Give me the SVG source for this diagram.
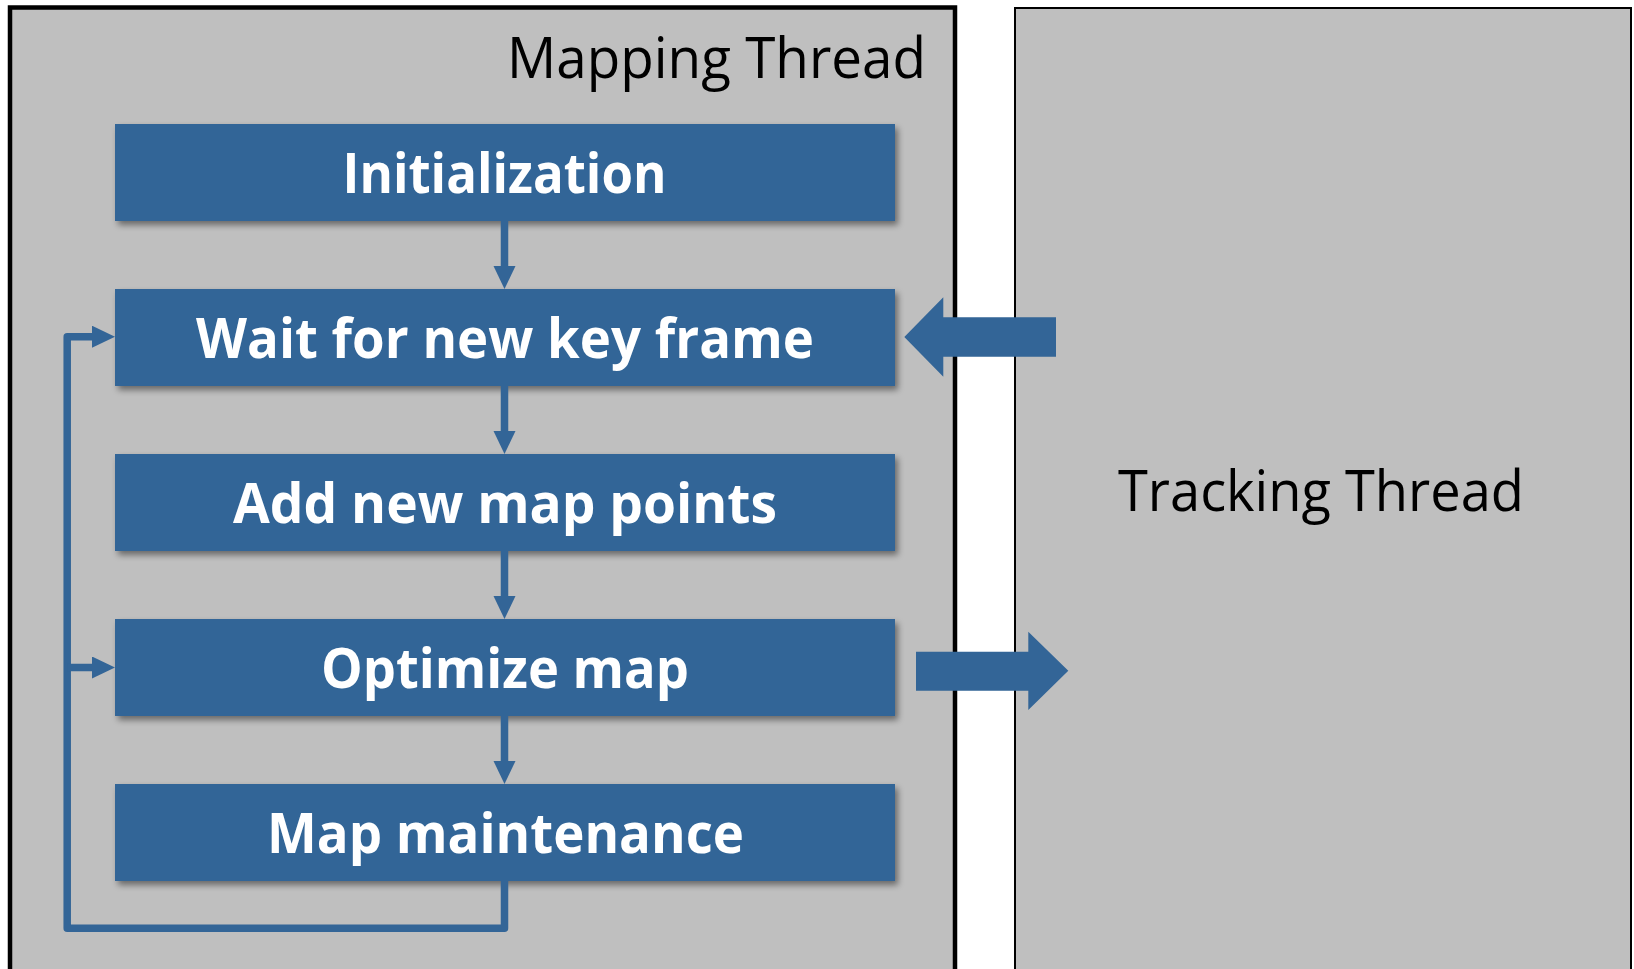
<svg xmlns="http://www.w3.org/2000/svg" width="1634" height="969" viewBox="0 0 1634 969">
  <style>
    .panel { fill: #BFBFBF; stroke: #000000; }
    .box { fill: #336597; filter: url(#shadow); }
    .label { font-family: "Open Sans", "Liberation Sans", sans-serif; font-weight: bold; font-size: 55px; fill: #FFFFFF; }
    .title { font-family: "Open Sans", "Liberation Sans", sans-serif; font-size: 57px; fill: #000000; }
    .conn { fill: none; stroke: #336597; stroke-width: 7.5; stroke-linejoin: round; }
    .block { fill: #336597; }
  </style>
  <defs>
    <filter id="shadow" x="-5%" y="-10%" width="115%" height="130%">
      <feDropShadow dx="3" dy="4" stdDeviation="3" flood-color="#000000" flood-opacity="0.45"/>
    </filter>
    <marker id="head" markerUnits="userSpaceOnUse" markerWidth="24" markerHeight="24" refX="13" refY="11" orient="auto">
      <path d="M0,0 L23,11 L0,22 Z" fill="#336597"/>
    </marker>
  </defs>
  <rect x="0" y="0" width="1634" height="969" fill="#FFFFFF"/>

  <g id="mapping-thread">
    <rect class="panel" x="10" y="7.5" width="945" height="1000" stroke-width="4.5"/>
    <text class="title" x="507" y="78" textLength="419" lengthAdjust="spacingAndGlyphs">Mapping Thread</text>
  </g>

  <g id="tracking-thread">
    <rect class="panel" x="1015" y="8" width="616" height="1000" stroke-width="2"/>
    <text class="title" x="1118" y="511" textLength="406" lengthAdjust="spacingAndGlyphs">Tracking Thread</text>
  </g>

  <g id="initialization">
    <rect class="box" x="115" y="124" width="780" height="97"/>
    <text class="label" x="342.5" y="193" textLength="324" lengthAdjust="spacingAndGlyphs">Initialization</text>
  </g>

  <g id="wait-key-frame">
    <rect class="box" x="115" y="289" width="780" height="97"/>
    <text class="label" x="196" y="358" textLength="618" lengthAdjust="spacingAndGlyphs">Wait for new key frame</text>
  </g>

  <g id="add-map-points">
    <rect class="box" x="115" y="454" width="780" height="97"/>
    <text class="label" x="233" y="523" textLength="544" lengthAdjust="spacingAndGlyphs">Add new map points</text>
  </g>

  <g id="optimize-map">
    <rect class="box" x="115" y="619" width="780" height="97"/>
    <text class="label" x="321" y="688" textLength="368" lengthAdjust="spacingAndGlyphs">Optimize map</text>
  </g>

  <g id="map-maintenance">
    <rect class="box" x="115" y="784" width="780" height="97"/>
    <text class="label" x="267" y="853" textLength="477" lengthAdjust="spacingAndGlyphs">Map maintenance</text>
  </g>

  <g id="connectors">
    <line class="conn" x1="504.5" y1="221" x2="504.5" y2="279" marker-end="url(#head)"/>
    <line class="conn" x1="504.5" y1="386" x2="504.5" y2="444" marker-end="url(#head)"/>
    <line class="conn" x1="504.5" y1="551" x2="504.5" y2="609" marker-end="url(#head)"/>
    <line class="conn" x1="504.5" y1="716" x2="504.5" y2="774" marker-end="url(#head)"/>
    <path class="conn" d="M504.5,881 V928.3 H67.2 V336.7 H105" marker-end="url(#head)"/>
    <path class="conn" d="M67.2,667.5 H105" marker-end="url(#head)"/>
    <polygon class="block" points="1056,317.3 943.3,317.3 943.3,297.3 904.3,337 943.3,376.7 943.3,356.7 1056,356.7"/>
    <polygon class="block" points="916,651.7 1028.3,651.7 1028.3,631.7 1068.3,670.8 1028.3,710 1028.3,690.7 916,690.7"/>
  </g>
</svg>
